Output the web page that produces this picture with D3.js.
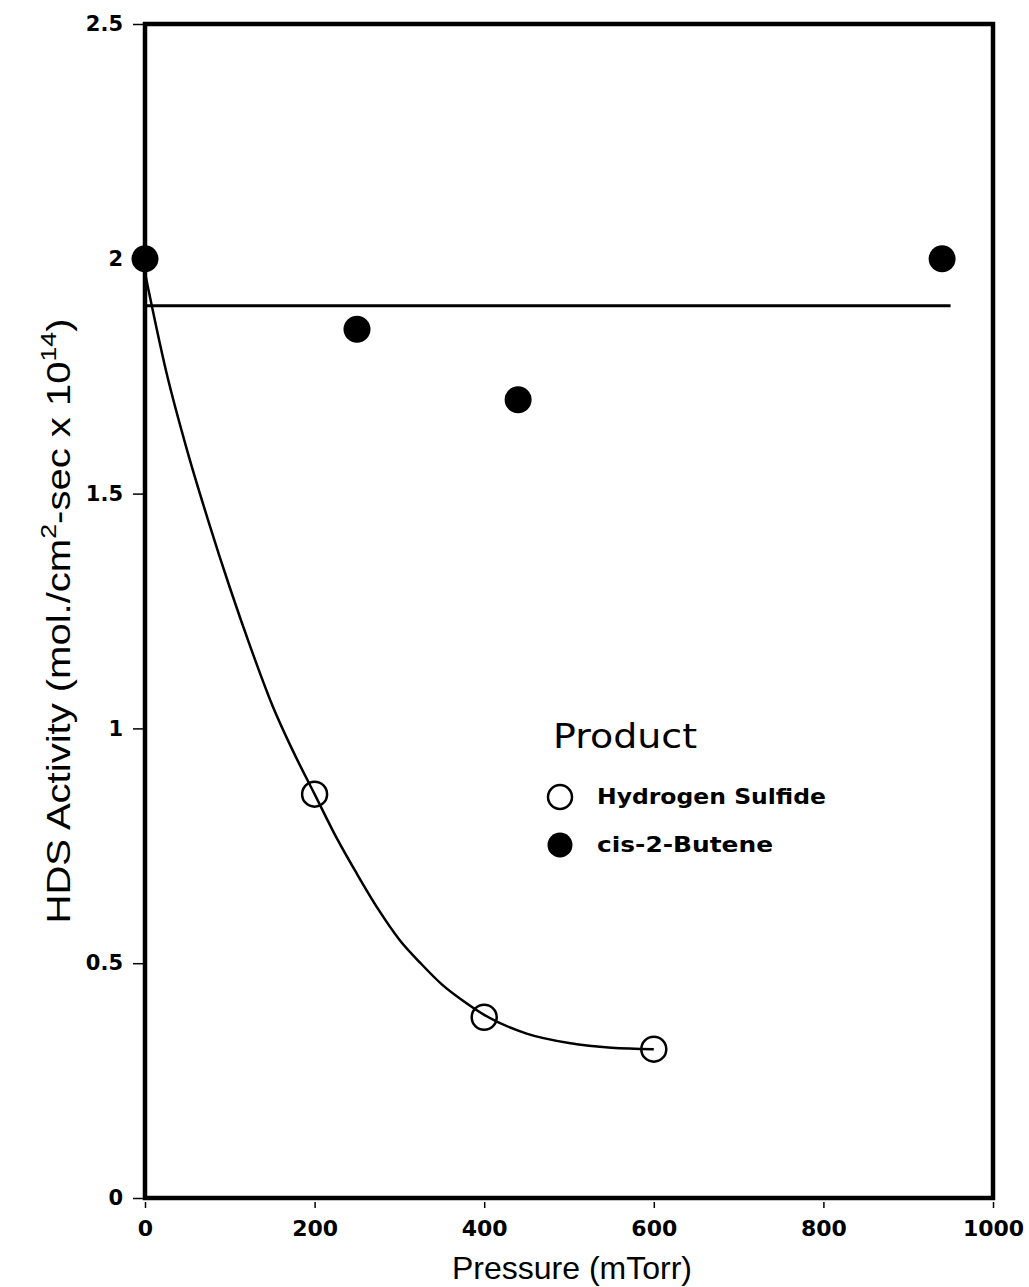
<!DOCTYPE html>
<html>
<head>
<meta charset="utf-8">
<script src="https://cdn.jsdelivr.net/npm/d3@7"></script>
<style>
  html, body { margin: 0; padding: 0; background: #fff; }
  svg { display: block; }
</style>
</head>
<body>
<svg id="chart" width="1029" height="1287"></svg>
<script>
// Pressure (mTorr) and HDS activity (mol/cm^2-sec x 10^14)
const h2sPressure = [200, 400, 600];
const h2sActivity = [0.86, 0.385, 0.317];

const butenePressure = [0, 250, 440, 940];
const buteneActivity = [2.0, 1.85, 1.70, 2.0];

// Hand-drawn trend through the hydrogen sulfide data
const h2sFitPressure = [0, 25, 50, 75, 100, 125, 150, 175, 200, 225, 250, 275, 300, 325, 350, 375, 400, 450, 500, 550, 600];
const h2sFitActivity = [1.97, 1.76, 1.59, 1.44, 1.30, 1.17, 1.05, 0.95, 0.86, 0.77, 0.69, 0.615, 0.55, 0.50, 0.455, 0.42, 0.39, 0.35, 0.33, 0.32, 0.317];

// Average level of cis-2-butene activity
const buteneMeanPressure = [0, 950];
const buteneMeanActivity = [1.9, 1.9];

const xTicks = [0, 200, 400, 600, 800, 1000];
const yTicks = [0, 0.5, 1, 1.5, 2, 2.5];

const legendLabels = ["Hydrogen Sulfide", "cis-2-Butene"];
const legendWidths = [229, 176];

const svg = d3.select("#chart");
const plotLeft = 145, plotRight = 993, plotTop = 24, plotBottom = 1198;

const x = d3.scaleLinear().domain([0, 1000]).range([plotLeft, plotRight]);
const y = d3.scaleLinear().domain([0, 2.5]).range([plotBottom, plotTop]);

const tickFont = "'DejaVu Sans', sans-serif";

// X axis
const xAxis = svg.append("g")
  .attr("transform", `translate(0,${plotBottom + 4})`)
  .call(d3.axisBottom(x).tickValues(xTicks).tickFormat(d3.format("d"))
    .tickSizeInner(6).tickSizeOuter(0).tickPadding(12));
xAxis.select(".domain").remove();
xAxis.selectAll("line").attr("stroke", "#000").attr("stroke-width", 1.5);
xAxis.selectAll("text")
  .attr("font-family", tickFont).attr("font-weight", "bold").attr("font-size", 22).attr("fill", "#000");

// Y axis
const yAxis = svg.append("g")
  .attr("transform", `translate(${plotLeft},0)`)
  .call(d3.axisLeft(y).tickValues(yTicks).tickFormat(d => String(d))
    .tickSizeInner(12).tickSizeOuter(0).tickPadding(10));
yAxis.select(".domain").remove();
yAxis.selectAll("line").attr("stroke", "#000").attr("stroke-width", 1.5);
yAxis.selectAll("text")
  .attr("font-family", tickFont).attr("font-weight", "bold").attr("font-size", 21).attr("fill", "#000");

// Frame
svg.append("rect")
  .attr("x", plotLeft).attr("y", plotTop)
  .attr("width", plotRight - plotLeft).attr("height", plotBottom - plotTop)
  .attr("fill", "none").attr("stroke", "#000").attr("stroke-width", 4.5);

// Axis titles
svg.append("text")
  .attr("x", (plotLeft + plotRight) / 2 + 3).attr("y", 1279)
  .attr("text-anchor", "middle")
  .attr("font-family", "'Liberation Sans', Arial, sans-serif")
  .attr("font-size", 32)
  .attr("fill", "#000")
  .text("Pressure (mTorr)");

const yTitle = svg.append("text")
  .attr("transform", `translate(70,621) rotate(-90)`)
  .attr("text-anchor", "middle")
  .attr("font-family", "'Liberation Sans', Arial, sans-serif")
  .attr("font-size", 33)
  .attr("textLength", 605)
  .attr("lengthAdjust", "spacingAndGlyphs")
  .attr("fill", "#000");
yTitle.append("tspan").text("HDS Activity (mol./cm");
yTitle.append("tspan").attr("dy", -14).attr("font-size", 22).text("2");
yTitle.append("tspan").attr("dy", 14).text("-sec x 10");
yTitle.append("tspan").attr("dy", -14).attr("font-size", 22).text("14");
yTitle.append("tspan").attr("dy", 14).text(")");

// Butene mean line
svg.append("path")
  .datum(d3.zip(buteneMeanPressure, buteneMeanActivity))
  .attr("d", d3.line().x(d => x(d[0])).y(d => y(d[1])))
  .attr("fill", "none").attr("stroke", "#000").attr("stroke-width", 3);

// H2S trend curve
svg.append("path")
  .datum(d3.zip(h2sFitPressure, h2sFitActivity))
  .attr("d", d3.line().x(d => x(d[0])).y(d => y(d[1])).curve(d3.curveMonotoneX))
  .attr("fill", "none").attr("stroke", "#000").attr("stroke-width", 2.5);

// H2S points (open)
svg.append("g").selectAll("circle")
  .data(d3.zip(h2sPressure, h2sActivity))
  .join("circle")
  .attr("cx", d => x(d[0])).attr("cy", d => y(d[1]))
  .attr("r", 12.5)
  .attr("fill", "none").attr("stroke", "#000").attr("stroke-width", 2.5);

// Butene points (filled)
svg.append("g").selectAll("circle")
  .data(d3.zip(butenePressure, buteneActivity))
  .join("circle")
  .attr("cx", d => x(d[0])).attr("cy", d => y(d[1]))
  .attr("r", 13.5)
  .attr("fill", "#000");

// Legend
const legend = svg.append("g");
legend.append("text")
  .attr("x", 553).attr("y", 748)
  .attr("font-family", "'DejaVu Sans', sans-serif")
  .attr("font-size", 33)
  .attr("textLength", 144)
  .attr("lengthAdjust", "spacingAndGlyphs")
  .attr("fill", "#000")
  .text("Product");

legend.append("circle")
  .attr("cx", 560).attr("cy", 797).attr("r", 12)
  .attr("fill", "none").attr("stroke", "#000").attr("stroke-width", 2.5);
legend.append("circle")
  .attr("cx", 560).attr("cy", 845).attr("r", 12.5)
  .attr("fill", "#000");

legend.selectAll("text.entry")
  .data(legendLabels)
  .join("text")
  .attr("class", "entry")
  .attr("x", 597)
  .attr("y", (d, i) => 804 + i * 48)
  .attr("font-family", tickFont)
  .attr("font-weight", "bold")
  .attr("font-size", 21)
  .attr("textLength", (d, i) => legendWidths[i])
  .attr("lengthAdjust", "spacingAndGlyphs")
  .attr("fill", "#000")
  .text(d => d);
</script>
</body>
</html>
